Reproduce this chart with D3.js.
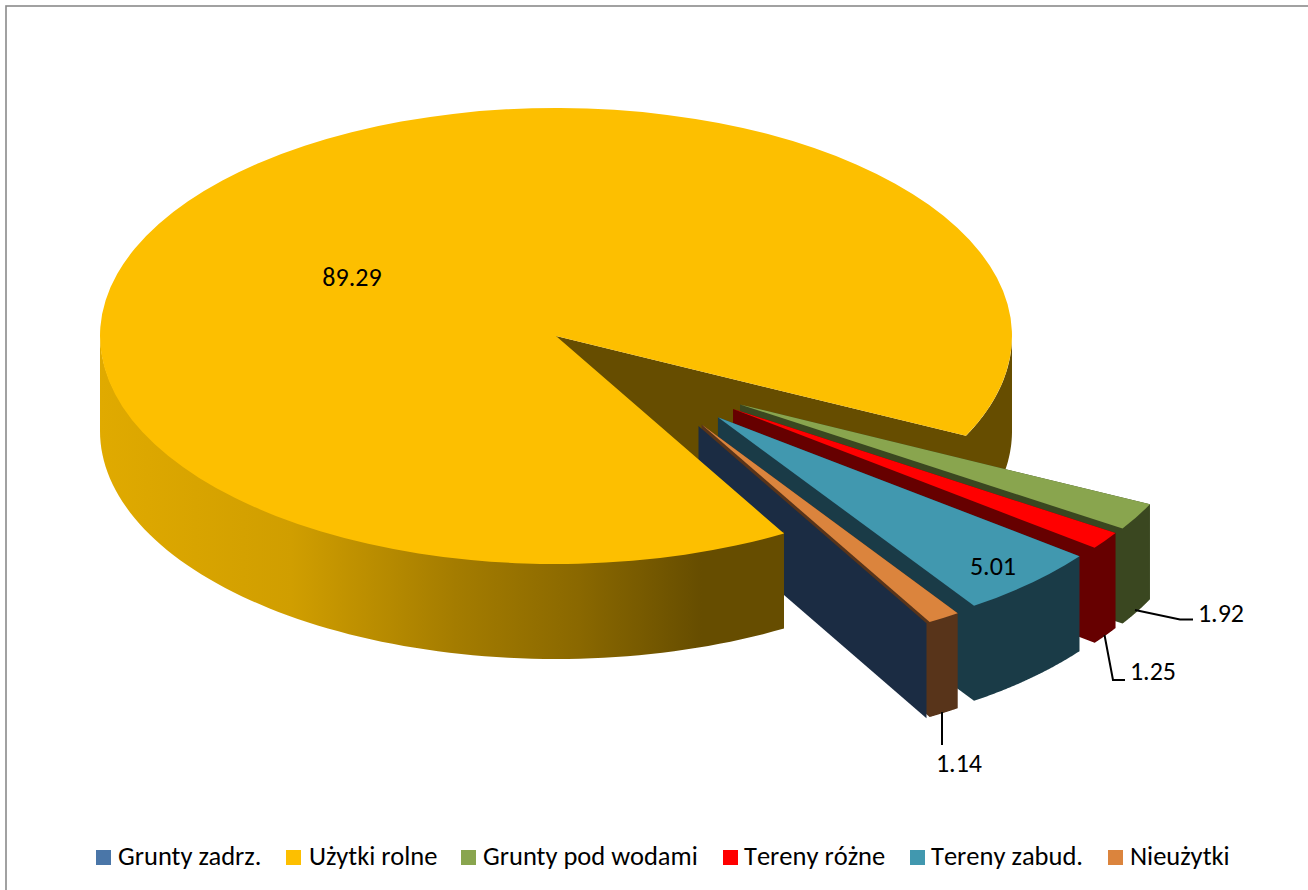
<!DOCTYPE html>
<html><head><meta charset="utf-8">
<script src="https://cdnjs.cloudflare.com/ajax/libs/d3/7.8.5/d3.min.js"></script>
<style>
html,body{margin:0;padding:0;background:#fff}
svg{display:block}
text{font-family:Carlito,Calibri,Lato,sans-serif;fill:#000}
</style></head><body>
<svg id="c" width="1308" height="890"></svg>
<script>
// ---- data ----
const categories = ["Grunty zadrz.","Użytki rolne","Grunty pod wodami","Tereny różne","Tereny zabud.","Nieużytki"];
const values = [0, 89.29, 1.92, 1.25, 5.01, 1.14];
const labels = ["", "89.29", "1.92", "1.25", "5.01", "1.14"];
// ---- styles ----
const topColors  = ["#4A76A8","#FDBF00","#89A54E","#FF0000","#4198AF","#DB843D"];
const wallColors = ["#1B2C43","#664D00","#3A4720","#660000","#1A3B47","#58341A"];
const explosion  = [0.503,0,0.503,0.503,0.503,0.503];

const svg = d3.select("#c");
const W=1308,H=890, cx=556, cy=336, rx=456, ry=228, depth=95;

svg.append("rect").attr("x",6).attr("y",6).attr("width",W+20).attr("height",H+20)
   .attr("fill","#fff").attr("stroke","#8a8a8a").attr("stroke-width",1.6);

const defs = svg.append("defs");
const g0 = defs.append("linearGradient").attr("id","wall").attr("gradientUnits","userSpaceOnUse")
  .attr("x1",100).attr("x2",784).attr("y1",0).attr("y2",0);
[[0,"#E0AA00"],[0.28,"#D09E00"],[0.52,"#A47C00"],[0.70,"#8A6800"],[0.88,"#664D00"],[1,"#664D00"]]
  .forEach(s=>g0.append("stop").attr("offset",s[0]).attr("stop-color",s[1]));

// d3.pie angle: 0 at 12 o'clock, clockwise. Start chosen so Użytki rolne begins at the lower rim.
const start = (60+90)*Math.PI/180;
const pie = d3.pie().sort(null).value(d=>d).startAngle(start).endAngle(start+2*Math.PI);
const arcs = pie(values);
const arcGen = d3.arc().innerRadius(0).outerRadius(rx);
const rad = a => a - Math.PI/2;

// exploded apex: rim fraction along a direction that compresses towards the pie's lower-right
const apex = (d,i) => {
  if(!explosion[i]) return [cx,cy];
  const m = (rad(d.startAngle)+rad(d.endAngle))/2;
  const mm = ((m%(2*Math.PI))+2*Math.PI)%(2*Math.PI);
  const phi = mm*0.49 + 22.2*Math.PI/180;
  return [cx+explosion[i]*rx*Math.cos(phi), cy+explosion[i]*ry*Math.sin(phi)];
};
const rim = (c,a,dy=0)=>[c[0]+rx*Math.cos(a), c[1]+ry*Math.sin(a)+dy];
const line = d3.line();
const sweep = (a0,a1)=>d3.range(81).map(k=>a0+(a1-a0)*k/80);

// one outline for the outer and the radial wall of a slice, so no seam shows between them
function sliceBody(c,a0,a1,fill,parent){
  const pts = [c, rim(c,a0)].concat(sweep(a0,a1).map(a=>rim(c,a,depth)), [[c[0],c[1]+depth]]);
  parent.append("path").attr("d",line(pts)+"Z").attr("fill",fill);
}
// the wall's upper edge runs a little under the top face so no light seam shows at the rim
function outerWall(c,a0,a1,fill,parent){
  const s=sweep(a0,a1);
  const pts = s.map(a=>rim(c,a,-2)).concat(s.slice().reverse().map(a=>rim(c,a,depth)));
  parent.append("path").attr("d",line(pts)+"Z").attr("fill",fill);
}
function topFace(c,d,fill,parent){
  parent.append("path").attr("d",arcGen(d))
    .attr("transform",`translate(${c[0]},${c[1]}) scale(1,${ry/rx})`).attr("fill",fill);
}

const mainArc = arcs[1], mc = apex(mainArc,1);
const aStart = rad(mainArc.startAngle), aEnd = rad(mainArc.endAngle)-2*Math.PI;

// back of the main slice: radial wall joined to the short rim wall on the right
const back = svg.append("g");
back.append("path").attr("fill",wallColors[1]).attr("d",
  line([mc].concat(sweep(aEnd,0).map(a=>rim(mc,a)),
                   sweep(0,aEnd).map(a=>rim(mc,a,depth)),
                   [[mc[0],mc[1]+depth]]))+"Z");

// exploded slices, back to front
const ex = svg.append("g");
[2,3,4,5,0].forEach(i=>{
  const d=arcs[i], c=apex(d,i), a0=rad(d.startAngle)%(2*Math.PI), a1=rad(d.endAngle)%(2*Math.PI);
  sliceBody(c,a0,a1,wallColors[i],ex);
  if(values[i]>0) topFace(c,d,topColors[i],ex);
});

// front of the main slice
const front = svg.append("g");
outerWall(mc,aStart,Math.PI,"url(#wall)",front);
topFace(mc,mainArc,topColors[1],front);

// data labels
const labelPos = {1:[352,286],2:[1221,622],3:[1153,680],4:[993,575],5:[959,772]};
Object.keys(labelPos).forEach(i=>{
  svg.append("text").attr("x",labelPos[i][0]).attr("y",labelPos[i][1])
     .attr("text-anchor","middle").attr("font-size",26).text(labels[i]);
});
// leader lines
[[[1135,610],[1180,619.5],[1193,619.5]],
 [[1104.5,635],[1113,680],[1125,680]],
 [[942,712],[942,745]]].forEach(p=>{
  svg.append("path").attr("d",line(p)).attr("fill","none").attr("stroke","#000").attr("stroke-width",2);
});

// legend
const swatchX=[96,286,461,723,910,1108];
const legendTextX=[118,309,483,744,931,1130];
categories.forEach((n,i)=>{
  svg.append("rect").attr("x",swatchX[i]).attr("y",850).attr("width",15).attr("height",15).attr("fill",topColors[i]);
  svg.append("text").attr("x",legendTextX[i]).attr("y",865).attr("font-size",26.5)
     .style("font-kerning",(i===3||i===4)?"none":"auto").text(n);
});
</script></body></html>
